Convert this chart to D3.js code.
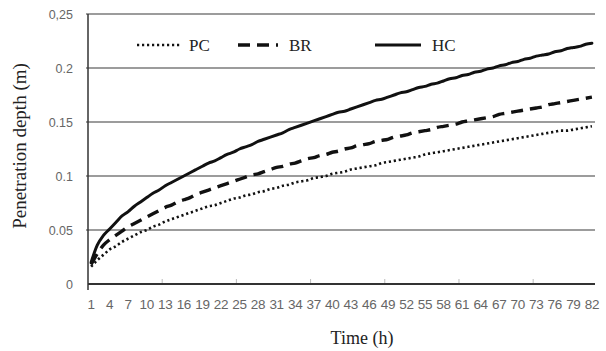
<!DOCTYPE html>
<html>
<head>
<meta charset="utf-8">
<script src="https://cdn.jsdelivr.net/npm/d3@7"></script>
<style>
  body { margin: 0; background: #fff; }
  svg { display: block; }
</style>
</head>
<body>
<div id="chart"></div>
<script>
// time steps (h)
const times = d3.range(1, 83);

// penetration depth (m)
const hcValues = [0.020,0.036,0.045,0.051,0.057,0.063,0.067,0.072,0.076,0.080,
  0.084,0.087,0.091,0.094,0.097,0.100,0.103,0.106,0.109,0.112,
  0.114,0.117,0.120,0.122,0.125,0.127,0.129,0.132,0.134,0.136,
  0.138,0.140,0.143,0.145,0.147,0.149,0.151,0.153,0.155,0.157,
  0.159,0.160,0.162,0.164,0.166,0.168,0.170,0.171,0.173,0.175,
  0.177,0.178,0.180,0.182,0.183,0.185,0.186,0.188,0.190,0.191,
  0.193,0.194,0.196,0.197,0.199,0.200,0.202,0.203,0.205,0.206,
  0.208,0.209,0.211,0.212,0.213,0.215,0.216,0.218,0.219,0.220,
  0.222,0.223];

const brValues = [0.018,0.028,0.036,0.041,0.045,0.049,0.053,0.056,0.059,0.062,
  0.065,0.068,0.071,0.073,0.076,0.078,0.080,0.083,0.085,0.087,
  0.089,0.091,0.093,0.095,0.097,0.099,0.101,0.102,0.104,0.106,
  0.108,0.109,0.111,0.112,0.114,0.116,0.117,0.119,0.120,0.122,
  0.123,0.125,0.126,0.128,0.129,0.130,0.132,0.133,0.134,0.136,
  0.137,0.138,0.140,0.141,0.142,0.143,0.145,0.146,0.147,0.148,
  0.150,0.151,0.152,0.153,0.154,0.155,0.157,0.158,0.159,0.160,
  0.161,0.162,0.163,0.164,0.166,0.167,0.168,0.169,0.170,0.171,
  0.172,0.173];

const pcValues = [0.016,0.022,0.027,0.032,0.035,0.039,0.042,0.045,0.048,0.050,
  0.053,0.055,0.058,0.060,0.062,0.064,0.066,0.068,0.070,0.072,
  0.073,0.075,0.077,0.079,0.080,0.082,0.083,0.085,0.086,0.088,
  0.089,0.091,0.092,0.094,0.095,0.096,0.098,0.099,0.100,0.102,
  0.103,0.104,0.106,0.107,0.108,0.109,0.110,0.112,0.113,0.114,
  0.115,0.116,0.117,0.118,0.120,0.121,0.122,0.123,0.124,0.125,
  0.126,0.127,0.128,0.129,0.130,0.131,0.132,0.133,0.134,0.135,
  0.136,0.137,0.138,0.139,0.140,0.141,0.142,0.142,0.143,0.144,
  0.145,0.146];

const seriesNames = ["PC", "BR", "HC"];
const yTicks = [0, 0.05, 0.1, 0.15, 0.2, 0.25];
const yTickLabels = ["0", "0.05", "0.1", "0.15", "0.2", "0,25"];

const series = [
  {name: "PC", values: pcValues, dash: "2.2,2.8", width: 2.6, cap: "butt"},
  {name: "BR", values: brValues, dash: "12,7", width: 3.4, cap: "butt"},
  {name: "HC", values: hcValues, dash: null, width: 3, cap: "round"}
];

const width = 606, height = 351;
const margin = {top: 14, right: 11, bottom: 67, left: 88};

const svg = d3.select("#chart").append("svg")
    .attr("width", width)
    .attr("height", height);

const x = d3.scaleBand()
    .domain(times)
    .range([margin.left, width - margin.right]);

const y = d3.scaleLinear()
    .domain([0, 0.25])
    .range([height - margin.bottom, margin.top]);

const cx = t => x(t) + x.bandwidth() / 2;

// gridlines
svg.append("g")
    .selectAll("line")
    .data(yTicks.filter(d => d > 0))
    .join("line")
    .attr("x1", margin.left - 2)
    .attr("x2", width - margin.right)
    .attr("y1", d => y(d))
    .attr("y2", d => y(d))
    .attr("stroke", "#3a3a3a")
    .attr("stroke-width", 1.2);

// y axis
const yAxis = svg.append("g")
    .attr("transform", `translate(${margin.left},0)`)
    .call(d3.axisLeft(y).tickValues(yTicks).tickSize(0).tickPadding(15)
        .tickFormat((d, i) => yTickLabels[i]));
yAxis.select(".domain").remove();
yAxis.selectAll("text")
    .attr("fill", "#666")
    .style("font-family", "'Liberation Sans', Arial, sans-serif")
    .style("font-size", "12.5px");

svg.append("line")
    .attr("x1", margin.left).attr("x2", margin.left)
    .attr("y1", y(0.25)).attr("y2", y(0) + 6)
    .attr("stroke", "#333")
    .attr("stroke-width", 1.5);

// x axis
const xAxis = svg.append("g")
    .attr("transform", `translate(0,${y(0)})`)
    .call(d3.axisBottom(x).tickValues(times.filter((d, i) => i % 3 === 0))
        .tickSize(0).tickPadding(15));
xAxis.select(".domain").remove();
xAxis.selectAll("text")
    .attr("fill", "#666")
    .style("font-family", "'Liberation Sans Narrow', 'Liberation Sans', Arial, sans-serif")
    .style("font-size", "13.5px")
    .style("letter-spacing", "-0.3px");

// small tick marks every 12 categories
svg.append("g")
    .selectAll("line")
    .data(times.filter((d, i) => i % 12 === 0 && i > 0))
    .join("line")
    .attr("x1", d => x(d))
    .attr("x2", d => x(d))
    .attr("y1", y(0))
    .attr("y2", y(0) - 5)
    .attr("stroke", "#bbb")
    .attr("stroke-width", 1);

svg.append("line")
    .attr("x1", margin.left)
    .attr("x2", width - margin.right)
    .attr("y1", y(0))
    .attr("y2", y(0))
    .attr("stroke", "#333")
    .attr("stroke-width", 1.8);

// lines
const line = d3.line()
    .x((d, i) => cx(times[i]))
    .y(d => y(d))
    .curve(d3.curveMonotoneX);

svg.append("g")
    .selectAll("path")
    .data(series)
    .join("path")
    .attr("d", d => line(d.values))
    .attr("fill", "none")
    .attr("stroke", "#111")
    .attr("stroke-width", d => d.width)
    .attr("stroke-linecap", d => d.cap)
    .attr("stroke-dasharray", d => d.dash);

// legend
const legendPos = [
  {line: [137, 180], text: 189},
  {line: [238, 278], text: 289},
  {line: [375, 421], text: 432}
];
const legendY = 45;
const legend = svg.append("g");
series.forEach((s, i) => {
  legend.append("line")
      .attr("x1", legendPos[i].line[0])
      .attr("x2", legendPos[i].line[1])
      .attr("y1", legendY)
      .attr("y2", legendY)
      .attr("stroke", "#111")
      .attr("stroke-width", s.width)
      .attr("stroke-dasharray", s.dash);
  legend.append("text")
      .attr("x", legendPos[i].text)
      .attr("y", legendY + 6)
      .attr("fill", "#222")
      .style("font-family", "'Liberation Serif', 'Times New Roman', serif")
      .style("font-size", "17px")
      .text(seriesNames[i]);
});

// axis titles
svg.append("text")
    .attr("transform", `translate(26,146) rotate(-90)`)
    .attr("text-anchor", "middle")
    .attr("fill", "#222")
    .style("font-family", "'Liberation Serif', 'Times New Roman', serif")
    .style("font-size", "19px")
    .text("Penetration depth (m)");

svg.append("text")
    .attr("x", 362)
    .attr("y", 344)
    .attr("text-anchor", "middle")
    .attr("fill", "#222")
    .style("font-family", "'Liberation Serif', 'Times New Roman', serif")
    .style("font-size", "18px")
    .text("Time (h)");
</script>
</body>
</html>
